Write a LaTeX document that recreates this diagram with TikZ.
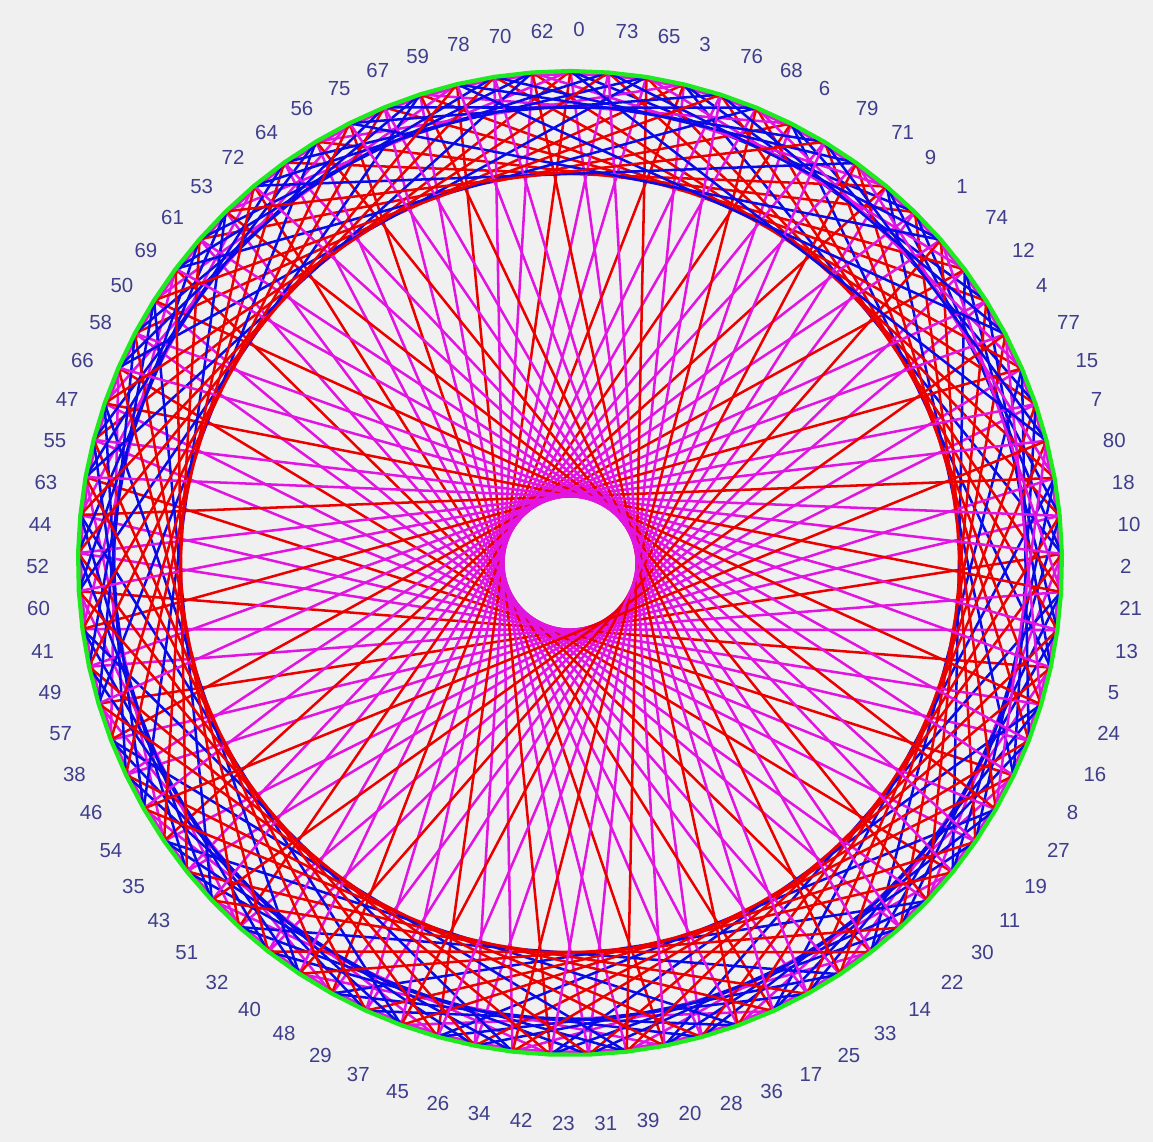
\documentclass[tikz,border=0pt]{standalone}
\usepackage{fontspec}
\setmainfont{Liberation Sans}
\usepackage{xcolor}
\usetikzlibrary{calc}

\definecolor{bggray}{RGB}{240,240,240}
\definecolor{numblue}{RGB}{62,62,140}
\definecolor{chordred}{RGB}{235,0,0}
\definecolor{chordpink}{RGB}{225,20,225}
\definecolor{chordblue}{RGB}{10,10,230}
\definecolor{rimgreen}{RGB}{30,235,30}

\tikzset{
  chord/.style={line width=1.8pt, line cap=round},
  rim/.style={line width=3pt, rimgreen, line join=round},
  numlabel/.style={anchor=base west, inner sep=0pt, text=numblue,
    font=\fontsize{14.5}{16}\selectfont}
}

\begin{document}
\begin{tikzpicture}[x=0.025cm, y=-0.025cm]
    % 1. Nền và khung
    \fill[bggray] (0,0) rectangle (1153,1142);
    \useasboundingbox (0,0) rectangle (1153,1142);

    % 2. Điểm n nằm ở vị trí n + 9*(n mod 3) trên đường tròn
    \foreach \n in {0,...,80} {
        \pgfmathtruncatemacro{\pos}{mod(\n+9*mod(\n,3),81)}
        \coordinate (v\n) at ({570+492*sin(\pos*40/9+0.05)}, {563-492*cos(\pos*40/9+0.05)});
        \coordinate (p\pos) at (v\n);
        \node[numlabel] (l\n) at ({573+547*sin(\pos*40/9)}, {584-547*cos(\pos*40/9)}) {\n};
    }

    % 3. Dây ngắn sát viền (n với n+3)
    \foreach \n in {0,...,80} {
        \pgfmathtruncatemacro{\md}{mod(\n+3,81)}
        \draw[chord, chordpink] (v\n) -- (v\md);
    }

    % 4. Nối n với n+28, n+55 và n+1
    \foreach \n in {0,...,80} {
        \pgfmathtruncatemacro{\ma}{mod(\n+28,81)}
        \pgfmathtruncatemacro{\mb}{mod(\n+55,81)}
        \pgfmathtruncatemacro{\mc}{mod(\n+1,81)}
        \draw[chord, chordpink] (v\n) -- (v\ma);
        \draw[chord, chordred] (v\n) -- (v\mb);
        \draw[chord, chordblue] (v\n) -- (v\mc);
    }

    % 5. Viền xanh lá
    \draw[rim] (p0) \foreach \i in {1,...,80} { -- (p\i) } -- cycle;
\end{tikzpicture}
\end{document}
